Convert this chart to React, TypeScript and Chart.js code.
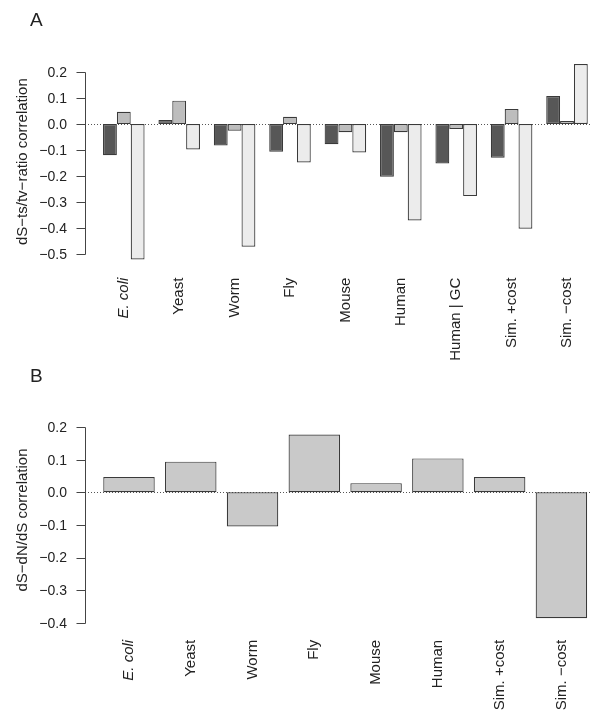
import React, { useEffect, useRef } from 'react';
import { Chart, registerables } from 'chart.js';

Chart.register(...registerables);

// ---------- DATA ----------
const categoriesA = ['E. coli', 'Yeast', 'Worm', 'Fly', 'Mouse', 'Human', 'Human | GC', 'Sim. +cost', 'Sim. \u2212cost'];
const seriesDarkA = [-0.12, 0.015, -0.083, -0.107, -0.078, -0.203, -0.152, -0.13, 0.108];
const seriesMidA = [0.047, 0.09, -0.026, 0.028, -0.032, -0.032, -0.019, 0.058, 0.012];
const seriesLightA = [-0.522, -0.098, -0.473, -0.148, -0.11, -0.372, -0.278, -0.404, 0.231];
const ticksA = [0.2, 0.1, 0.0, -0.1, -0.2, -0.3, -0.4, -0.5];
const titleA = 'dS\u2212ts/tv\u2212ratio correlation';

const categoriesB = ['E. coli', 'Yeast', 'Worm', 'Fly', 'Mouse', 'Human', 'Sim. +cost', 'Sim. \u2212cost'];
const valuesB = [0.047, 0.094, -0.105, 0.177, 0.028, 0.104, 0.047, -0.386];
const ticksB = [0.2, 0.1, 0.0, -0.1, -0.2, -0.3, -0.4];
const titleB = 'dS\u2212dN/dS correlation';

// ---------- STYLE ----------
const FONT = '"Liberation Sans", Arial, Helvetica, sans-serif';
const TEXT = '#222';
const AXIS = '#444';
const W = 602;
const H_A = 366;
const H_B = 355;

const fmtTick = (v: number) => v.toFixed(1).replace('-', '\u2212');

type PanelCfg = {
  letter: string;
  letterBaseline: number;
  ticks: number[];
  title: string;
  axisX: number;
  zeroEnd: number;
};

function rAxisPlugin(cfg: PanelCfg) {
  return {
    id: 'rAxis' + cfg.letter,
    beforeDatasetsDraw(chart: any) {
      const ctx = chart.ctx;
      const y = chart.scales.y;
      const y0 = Math.round(y.getPixelForValue(0)) + 0.5;
      ctx.save();
      ctx.strokeStyle = '#555';
      ctx.lineWidth = 1;
      ctx.setLineDash([1, 2]);
      ctx.beginPath();
      ctx.moveTo(cfg.axisX, y0);
      ctx.lineTo(cfg.zeroEnd, y0);
      ctx.stroke();
      ctx.restore();
    },
    afterDraw(chart: any) {
      const ctx = chart.ctx;
      const y = chart.scales.y;
      const area = chart.chartArea;
      const ax = cfg.axisX + 0.5;
      const tTop = Math.round(y.getPixelForValue(Math.max(...cfg.ticks))) + 0.5;
      const tBot = Math.round(y.getPixelForValue(Math.min(...cfg.ticks))) + 0.5;
      ctx.save();
      ctx.strokeStyle = AXIS;
      ctx.lineWidth = 1;
      ctx.beginPath();
      ctx.moveTo(ax, tTop);
      ctx.lineTo(ax, tBot);
      cfg.ticks.forEach((t) => {
        const py = Math.round(y.getPixelForValue(t)) + 0.5;
        ctx.moveTo(ax - 9, py);
        ctx.lineTo(ax, py);
      });
      ctx.stroke();
      ctx.fillStyle = TEXT;
      ctx.font = `14px ${FONT}`;
      ctx.textAlign = 'right';
      ctx.textBaseline = 'middle';
      cfg.ticks.forEach((t) => {
        const py = y.getPixelForValue(t);
        ctx.fillText(fmtTick(t), cfg.axisX - 18, py + 1);
      });
      // axis title
      ctx.save();
      ctx.translate(23, (area.top + area.bottom) / 2);
      ctx.rotate(-Math.PI / 2);
      ctx.font = `15px ${FONT}`;
      ctx.textAlign = 'center';
      ctx.textBaseline = 'middle';
      ctx.fillText(cfg.title, 0, 0);
      ctx.restore();
      // panel letter
      ctx.font = `19px ${FONT}`;
      ctx.textAlign = 'left';
      ctx.textBaseline = 'alphabetic';
      ctx.fillText(cfg.letter, 30, cfg.letterBaseline);
      ctx.restore();
    },
  };
}

function layoutFor(zeroY: number, ppu: number, min: number, max: number, h: number) {
  const top = zeroY - max * ppu;
  const bottom = zeroY - min * ppu;
  return { top, xAxisH: h - bottom };
}

function xScale(padding: number, xAxisH: number) {
  return {
    offset: true,
    grid: { display: false, drawTicks: false },
    border: { display: false },
    ticks: {
      autoSkip: false,
      minRotation: 90,
      maxRotation: 90,
      padding,
      color: TEXT,
      font: (c: any) => ({ family: FONT, size: 15, style: c.index === 0 ? 'italic' : 'normal' }),
    },
    afterFit: (s: any) => {
      s.height = xAxisH;
    },
  };
}

export default function App() {
  const refA = useRef<HTMLCanvasElement>(null);
  const refB = useRef<HTMLCanvasElement>(null);

  useEffect(() => {
    const minA = -0.55, maxA = 0.26;
    const la = layoutFor(124, 259.4, minA, maxA, H_A);
    const barStyle = { borderColor: '#3a3a3a', borderWidth: 1.2, borderSkipped: false as const };
    const chartA = new Chart(refA.current!, {
      type: 'bar',
      data: {
        labels: categoriesA,
        datasets: [
          { data: seriesDarkA, backgroundColor: '#575757', ...barStyle },
          { data: seriesMidA, backgroundColor: '#bdbdbd', ...barStyle },
          { data: seriesLightA, backgroundColor: '#ececec', ...barStyle },
        ],
      },
      options: {
        responsive: false,
        animation: false,
        devicePixelRatio: 1,
        datasets: { bar: { categoryPercentage: 0.75, barPercentage: 1.0 } },
        layout: { padding: { top: la.top, left: 96.1, right: W - 594.7, bottom: 0 } },
        plugins: { legend: { display: false }, tooltip: { enabled: false } },
        scales: {
          x: xScale(11, la.xAxisH) as any,
          y: { display: false, min: minA, max: maxA },
        },
      },
      plugins: [rAxisPlugin({ letter: 'A', letterBaseline: 25.7, ticks: ticksA, title: titleA, axisX: 85, zeroEnd: 591 })],
    });

    const minB = -0.425, maxB = 0.255;
    const lb = layoutFor(126.3, 326, minB, maxB, H_B);
    const chartB = new Chart(refB.current!, {
      type: 'bar',
      data: {
        labels: categoriesB,
        datasets: [{ data: valuesB, backgroundColor: '#c9c9c9', ...barStyle }],
      },
      options: {
        responsive: false,
        animation: false,
        devicePixelRatio: 1,
        datasets: { bar: { categoryPercentage: 1.0, barPercentage: 1 / 1.2 } },
        layout: { padding: { top: lb.top, left: 98.1, right: W - 592.3, bottom: 0 } },
        plugins: { legend: { display: false }, tooltip: { enabled: false } },
        scales: {
          x: xScale(9, lb.xAxisH) as any,
          y: { display: false, min: minB, max: maxB },
        },
      },
      plugins: [rAxisPlugin({ letter: 'B', letterBaseline: 15.7, ticks: ticksB, title: titleB, axisX: 85, zeroEnd: 591 })],
    });

    return () => {
      chartA.destroy();
      chartB.destroy();
    };
  }, []);

  return (
    <div style={{ position: 'absolute', left: 0, top: 0, width: W, height: H_A + H_B, background: '#fff' }}>
      <canvas ref={refA} width={W} height={H_A} style={{ display: 'block', width: W, height: H_A }} />
      <canvas ref={refB} width={W} height={H_B} style={{ display: 'block', width: W, height: H_B }} />
    </div>
  );
}
